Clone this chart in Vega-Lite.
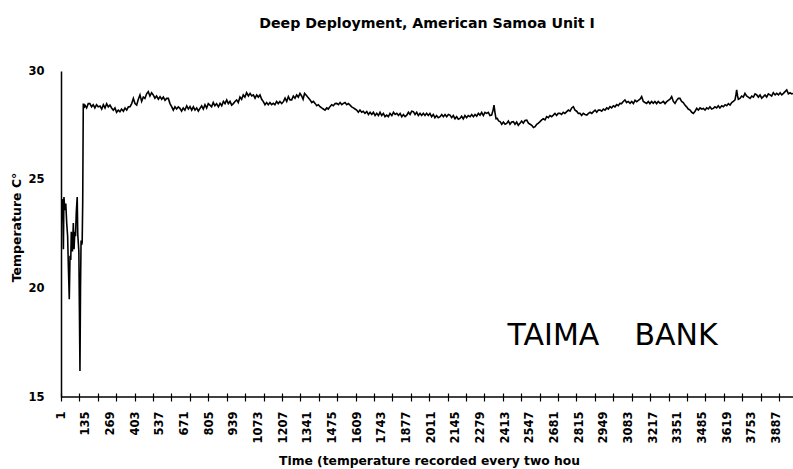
{
  "$schema": "https://vega.github.io/schema/vega-lite/v6.json",
  "width": 732,
  "height": 326,
  "autosize": {"type": "none"},
  "padding": {"left": 61, "top": 71, "right": 0, "bottom": 72},
  "background": "white",
  "title": {
    "text": "Deep Deployment, American Samoa Unit I",
    "font": "DejaVu Sans",
    "fontSize": 14.2,
    "fontWeight": "bold",
    "color": "black",
    "anchor": "middle",
    "frame": "group",
    "baseline": "alphabetic",
    "offset": 23
  },
  "config": {"view": {"stroke": null}},
  "layer": [
    {
      "data": {"values": [
        {"t":1,"v":22.6},{"t":5,"v":23.8},{"t":10,"v":24.1},{"t":14,"v":21.8},{"t":17,"v":24.2},{"t":22,"v":23.6},{"t":27,"v":23.9},{"t":32,"v":23.0},{"t":37,"v":22.4},{"t":41,"v":21.0},{"t":46,"v":19.5},{"t":50,"v":21.5},{"t":54,"v":21.3},{"t":57,"v":22.6},{"t":59,"v":22.2},{"t":63,"v":21.7},{"t":68,"v":23.0},{"t":72,"v":21.8},{"t":76,"v":22.6},{"t":80,"v":22.4},{"t":84,"v":23.5},{"t":89,"v":24.2},{"t":92,"v":22.5},{"t":95,"v":22.1},{"t":98,"v":21.7},{"t":101,"v":19.0},{"t":104,"v":16.2},{"t":107,"v":20.0},{"t":110,"v":22.2},{"t":113,"v":22.0},{"t":116,"v":22.1},{"t":119,"v":24.0},{"t":122,"v":28.5},{"t":126,"v":28.3},{"t":131,"v":28.43},
        {"t":140,"v":28.3},{"t":149,"v":28.5},{"t":158,"v":28.5},{"t":167,"v":28.35},{"t":176,"v":28.45},{"t":185,"v":28.3},{"t":194,"v":28.45},{"t":203,"v":28.35},{"t":213,"v":28.39},{"t":222,"v":28.25},{"t":231,"v":28.45},{"t":240,"v":28.3},{"t":249,"v":28.5},{"t":258,"v":28.35},{"t":267,"v":28.43},{"t":276,"v":28.3},{"t":285,"v":28.2},{"t":294,"v":28.3},{"t":303,"v":28.1},{"t":312,"v":28.2},{"t":321,"v":28.13},{"t":330,"v":28.25},{"t":340,"v":28.15},{"t":349,"v":28.3},{"t":358,"v":28.2},{"t":367,"v":28.35},{"t":376,"v":28.36},{"t":385,"v":28.5},{"t":394,"v":28.74},{"t":403,"v":28.5},{"t":412,"v":28.43},{"t":421,"v":28.7},{"t":430,"v":28.9},{"t":439,"v":28.6},{"t":448,"v":28.8},{"t":457,"v":28.74},{"t":466,"v":28.95},{"t":475,"v":29.05},{"t":484,"v":28.85},{"t":493,"v":29.0},{"t":502,"v":28.9},{"t":511,"v":28.75},{"t":520,"v":28.85},{"t":530,"v":28.7},{"t":539,"v":28.82},{"t":548,"v":28.7},{"t":557,"v":28.8},{"t":566,"v":28.65},{"t":575,"v":28.74},{"t":584,"v":28.74},{"t":593,"v":28.5},{"t":602,"v":28.36},{"t":611,"v":28.2},{"t":620,"v":28.35},{"t":629,"v":28.25},{"t":638,"v":28.35},{"t":647,"v":28.28},{"t":656,"v":28.15},{"t":665,"v":28.3},{"t":674,"v":28.2},{"t":684,"v":28.4},{"t":693,"v":28.25},{"t":702,"v":28.36},{"t":711,"v":28.2},{"t":720,"v":28.35},{"t":729,"v":28.2},{"t":738,"v":28.3},{"t":747,"v":28.15},{"t":756,"v":28.28},{"t":765,"v":28.4},{"t":774,"v":28.25},{"t":783,"v":28.45},{"t":792,"v":28.3},{"t":801,"v":28.5},{"t":810,"v":28.43},{"t":819,"v":28.35},{"t":828,"v":28.55},{"t":837,"v":28.4},{"t":846,"v":28.5},{"t":856,"v":28.35},{"t":865,"v":28.51},{"t":874,"v":28.4},{"t":883,"v":28.6},{"t":892,"v":28.5},{"t":901,"v":28.67},{"t":910,"v":28.5},{"t":919,"v":28.6},{"t":928,"v":28.43},{"t":937,"v":28.5},{"t":946,"v":28.6},{"t":955,"v":28.67},{"t":964,"v":28.55},{"t":973,"v":28.8},{"t":982,"v":28.7},{"t":991,"v":28.9},{"t":1000,"v":28.8},{"t":1009,"v":29.0},{"t":1019,"v":28.85},{"t":1028,"v":28.97},{"t":1037,"v":28.85},{"t":1046,"v":28.9},{"t":1055,"v":28.75},{"t":1064,"v":28.9},{"t":1073,"v":28.8},{"t":1082,"v":28.9},{"t":1091,"v":28.7},{"t":1100,"v":28.59},{"t":1109,"v":28.45},{"t":1118,"v":28.55},{"t":1127,"v":28.45},{"t":1136,"v":28.55},{"t":1145,"v":28.45},{"t":1154,"v":28.51},{"t":1163,"v":28.45},{"t":1172,"v":28.6},{"t":1181,"v":28.5},{"t":1190,"v":28.6},{"t":1200,"v":28.5},{"t":1209,"v":28.59},{"t":1218,"v":28.75},{"t":1227,"v":28.6},{"t":1236,"v":28.82},{"t":1245,"v":28.67},{"t":1254,"v":28.67},{"t":1263,"v":28.85},{"t":1272,"v":28.75},{"t":1281,"v":28.9},{"t":1290,"v":28.8},{"t":1299,"v":28.97},{"t":1308,"v":28.85},{"t":1316,"v":28.7},{"t":1324,"v":28.97},{"t":1332,"v":28.9},{"t":1341,"v":28.8},{"t":1354,"v":28.67},{"t":1363,"v":28.55},{"t":1372,"v":28.6},{"t":1381,"v":28.51},{"t":1390,"v":28.4},{"t":1399,"v":28.45},{"t":1408,"v":28.36},{"t":1417,"v":28.3},{"t":1426,"v":28.25},{"t":1435,"v":28.2},{"t":1444,"v":28.3},{"t":1453,"v":28.25},{"t":1462,"v":28.36},{"t":1471,"v":28.45},{"t":1480,"v":28.4},{"t":1490,"v":28.5},{"t":1499,"v":28.51},{"t":1508,"v":28.45},{"t":1517,"v":28.55},{"t":1526,"v":28.45},{"t":1535,"v":28.51},{"t":1544,"v":28.55},{"t":1553,"v":28.45},{"t":1562,"v":28.5},{"t":1571,"v":28.43},{"t":1580,"v":28.35},{"t":1589,"v":28.3},{"t":1598,"v":28.25},{"t":1607,"v":28.2},{"t":1616,"v":28.1},{"t":1625,"v":28.2},{"t":1634,"v":28.1},{"t":1643,"v":28.15},{"t":1652,"v":28.05},{"t":1662,"v":28.13},{"t":1671,"v":28.0},{"t":1680,"v":28.1},{"t":1689,"v":28.0},{"t":1698,"v":28.1},{"t":1707,"v":27.95},{"t":1716,"v":28.05},{"t":1725,"v":27.95},{"t":1734,"v":28.1},{"t":1743,"v":27.95},{"t":1752,"v":28.05},{"t":1761,"v":27.9},{"t":1770,"v":27.97},{"t":1779,"v":27.9},{"t":1788,"v":28.05},{"t":1798,"v":27.95},{"t":1807,"v":28.1},{"t":1816,"v":28.0},{"t":1825,"v":28.05},{"t":1834,"v":27.95},{"t":1843,"v":28.05},{"t":1852,"v":27.9},{"t":1861,"v":28.0},{"t":1870,"v":27.9},{"t":1879,"v":27.97},{"t":1888,"v":28.1},{"t":1897,"v":28.0},{"t":1906,"v":28.15},{"t":1915,"v":28.13},{"t":1924,"v":28.0},{"t":1933,"v":28.1},{"t":1942,"v":27.95},{"t":1951,"v":28.05},{"t":1960,"v":27.95},{"t":1969,"v":28.05},{"t":1978,"v":27.95},{"t":1987,"v":28.05},{"t":1996,"v":27.95},{"t":2005,"v":28.05},{"t":2014,"v":27.9},{"t":2023,"v":28.0},{"t":2032,"v":27.85},{"t":2041,"v":27.95},{"t":2050,"v":27.85},{"t":2060,"v":27.9},{"t":2069,"v":28.0},{"t":2078,"v":27.9},{"t":2087,"v":28.0},{"t":2096,"v":27.9},{"t":2105,"v":28.0},{"t":2114,"v":27.97},{"t":2123,"v":27.85},{"t":2132,"v":27.95},{"t":2141,"v":27.8},{"t":2150,"v":27.9},{"t":2159,"v":27.78},{"t":2168,"v":27.82},{"t":2177,"v":27.92},{"t":2186,"v":27.8},{"t":2195,"v":27.95},{"t":2204,"v":27.85},{"t":2213,"v":27.95},{"t":2223,"v":27.9},{"t":2232,"v":28.0},{"t":2241,"v":27.9},{"t":2250,"v":28.0},{"t":2259,"v":27.92},{"t":2268,"v":28.05},{"t":2277,"v":27.97},{"t":2286,"v":28.1},{"t":2295,"v":27.95},{"t":2304,"v":28.1},{"t":2313,"v":28.05},{"t":2322,"v":28.1},{"t":2331,"v":27.95},{"t":2340,"v":27.97},{"t":2348,"v":28.2},{"t":2353,"v":28.43},{"t":2358,"v":28.1},{"t":2364,"v":27.8},{"t":2371,"v":27.82},{"t":2378,"v":27.7},{"t":2386,"v":27.67},{"t":2395,"v":27.55},{"t":2404,"v":27.65},{"t":2413,"v":27.55},{"t":2422,"v":27.59},{"t":2431,"v":27.7},{"t":2440,"v":27.55},{"t":2449,"v":27.65},{"t":2458,"v":27.67},{"t":2467,"v":27.55},{"t":2476,"v":27.65},{"t":2485,"v":27.5},{"t":2494,"v":27.59},{"t":2503,"v":27.7},{"t":2512,"v":27.6},{"t":2521,"v":27.72},{"t":2531,"v":27.74},{"t":2540,"v":27.6},{"t":2549,"v":27.55},{"t":2558,"v":27.5},{"t":2567,"v":27.4},{"t":2576,"v":27.44},{"t":2585,"v":27.55},{"t":2594,"v":27.6},{"t":2603,"v":27.67},{"t":2612,"v":27.75},{"t":2621,"v":27.8},{"t":2630,"v":27.75},{"t":2639,"v":27.9},{"t":2648,"v":27.85},{"t":2657,"v":27.95},{"t":2666,"v":27.9},{"t":2675,"v":27.97},{"t":2684,"v":28.05},{"t":2693,"v":27.95},{"t":2702,"v":28.05},{"t":2711,"v":28.05},{"t":2720,"v":28.0},{"t":2729,"v":28.1},{"t":2738,"v":28.05},{"t":2748,"v":28.13},{"t":2757,"v":28.2},{"t":2766,"v":28.15},{"t":2775,"v":28.3},{"t":2784,"v":28.36},{"t":2793,"v":28.2},{"t":2802,"v":28.15},{"t":2811,"v":28.05},{"t":2820,"v":28.05},{"t":2829,"v":27.95},{"t":2838,"v":28.05},{"t":2847,"v":28.0},{"t":2857,"v":27.97},{"t":2866,"v":28.05},{"t":2875,"v":28.1},{"t":2884,"v":28.05},{"t":2893,"v":28.13},{"t":2902,"v":28.2},{"t":2911,"v":28.1},{"t":2920,"v":28.2},{"t":2929,"v":28.2},{"t":2938,"v":28.15},{"t":2947,"v":28.25},{"t":2956,"v":28.2},{"t":2965,"v":28.3},{"t":2974,"v":28.25},{"t":2983,"v":28.36},{"t":2992,"v":28.3},{"t":3001,"v":28.4},{"t":3010,"v":28.35},{"t":3019,"v":28.45},{"t":3028,"v":28.4},{"t":3037,"v":28.51},{"t":3046,"v":28.5},{"t":3055,"v":28.6},{"t":3064,"v":28.67},{"t":3073,"v":28.55},{"t":3082,"v":28.6},{"t":3092,"v":28.51},{"t":3101,"v":28.6},{"t":3110,"v":28.5},{"t":3119,"v":28.65},{"t":3128,"v":28.59},{"t":3137,"v":28.65},{"t":3146,"v":28.7},{"t":3155,"v":28.82},{"t":3164,"v":28.6},{"t":3173,"v":28.55},{"t":3182,"v":28.51},{"t":3191,"v":28.6},{"t":3200,"v":28.5},{"t":3209,"v":28.6},{"t":3218,"v":28.51},{"t":3227,"v":28.6},{"t":3236,"v":28.5},{"t":3245,"v":28.6},{"t":3255,"v":28.51},{"t":3264,"v":28.55},{"t":3273,"v":28.6},{"t":3282,"v":28.5},{"t":3291,"v":28.59},{"t":3300,"v":28.65},{"t":3309,"v":28.7},{"t":3318,"v":28.82},{"t":3327,"v":28.6},{"t":3336,"v":28.51},{"t":3345,"v":28.65},{"t":3354,"v":28.74},{"t":3363,"v":28.74},{"t":3372,"v":28.6},{"t":3381,"v":28.55},{"t":3390,"v":28.43},{"t":3399,"v":28.35},{"t":3408,"v":28.25},{"t":3418,"v":28.2},{"t":3427,"v":28.1},{"t":3436,"v":28.05},{"t":3445,"v":28.15},{"t":3454,"v":28.28},{"t":3463,"v":28.2},{"t":3472,"v":28.3},{"t":3481,"v":28.25},{"t":3490,"v":28.28},{"t":3499,"v":28.2},{"t":3508,"v":28.3},{"t":3517,"v":28.25},{"t":3526,"v":28.35},{"t":3535,"v":28.25},{"t":3544,"v":28.28},{"t":3553,"v":28.35},{"t":3562,"v":28.3},{"t":3571,"v":28.4},{"t":3580,"v":28.3},{"t":3590,"v":28.4},{"t":3599,"v":28.36},{"t":3608,"v":28.45},{"t":3617,"v":28.4},{"t":3626,"v":28.5},{"t":3635,"v":28.43},{"t":3644,"v":28.55},{"t":3653,"v":28.6},{"t":3662,"v":28.67},{"t":3667,"v":28.9},{"t":3671,"v":29.13},{"t":3676,"v":28.85},{"t":3680,"v":28.7},{"t":3689,"v":28.74},{"t":3698,"v":28.85},{"t":3707,"v":28.8},{"t":3716,"v":28.97},{"t":3725,"v":28.85},{"t":3734,"v":28.8},{"t":3744,"v":28.74},{"t":3753,"v":28.85},{"t":3762,"v":28.8},{"t":3771,"v":28.95},{"t":3780,"v":28.9},{"t":3789,"v":28.8},{"t":3798,"v":28.9},{"t":3807,"v":28.75},{"t":3816,"v":28.82},{"t":3825,"v":28.9},{"t":3834,"v":28.8},{"t":3843,"v":28.95},{"t":3852,"v":28.9},{"t":3861,"v":28.85},{"t":3870,"v":29.0},{"t":3880,"v":28.9},{"t":3889,"v":28.97},{"t":3898,"v":28.9},{"t":3907,"v":29.0},{"t":3916,"v":28.9},{"t":3925,"v":28.97},{"t":3934,"v":29.05},{"t":3943,"v":29.13},{"t":3952,"v":28.95},{"t":3961,"v":29.0},{"t":3970,"v":28.95},{"t":3977,"v":28.97}
      ]},
      "mark": {"type": "line", "color": "black", "strokeWidth": 1.6, "clip": true},
      "encoding": {
        "x": {
          "field": "t", "type": "quantitative",
          "scale": {"domain": [1, 3977], "nice": false, "zero": false},
          "axis": {
            "orient": "bottom",
            "offset": -4,
            "tickCount": 500,
            "values": [1,101,135,201,269,301,401,403,501,537,601,671,701,801,805,901,939,1001,1073,1101,1201,1207,1301,1341,1401,1475,1501,1601,1609,1701,1743,1801,1877,1901,2001,2011,2101,2145,2201,2279,2301,2401,2413,2501,2547,2601,2681,2701,2801,2815,2901,2949,3001,3083,3101,3201,3217,3301,3351,3401,3485,3501,3601,3619,3701,3753,3801,3887,3901],
            "labelExpr": "(datum.value - 1) % 134 === 0 ? format(datum.value, 'd') : ''",
            "ticks": true, "tickSize": 8, "tickWidth": 1.2, "tickColor": "black",
            "tickOpacity": {"condition": {"test": "(datum.value - 1) % 100 === 0", "value": 1}, "value": 0},
            "grid": false,
            "domain": false,
            "labelAngle": -90, "labelPadding": 10, "labelOverlap": false, "labelBound": false, "labelFlush": false,
            "labelFont": "DejaVu Sans", "labelFontSize": 11.5, "labelFontWeight": "bold", "labelColor": "black",
            "title": "Time (temperature recorded every two hou",
            "titleFont": "DejaVu Sans", "titleFontSize": 12.3, "titleFontWeight": "bold", "titleColor": "black",
            "titleX": 368, "titleY": 71, "titleAlign": "center", "titleBaseline": "alphabetic"
          }
        },
        "y": {
          "field": "v", "type": "quantitative",
          "scale": {"domain": [15, 30], "nice": false, "zero": false},
          "axis": {
            "values": [15, 20, 25, 30],
            "grid": false, "ticks": false,
            "domain": true, "domainColor": "black", "domainWidth": 1.5,
            "labelFont": "DejaVu Sans", "labelFontSize": 11.5, "labelFontWeight": "bold", "labelColor": "black",
            "labelPadding": 17,
            "title": "Temperature C°",
            "titleFont": "DejaVu Sans", "titleFontSize": 12.5, "titleFontWeight": "bold", "titleColor": "black",
            "titleAngle": 270, "titleX": -45, "titleY": 156, "titleAlign": "center", "titleBaseline": "middle"
          }
        }
      }
    },
    {
      "data": {"values": [{}]},
      "mark": {"type": "rule", "color": "black", "strokeWidth": 1.5},
      "encoding": {
        "y": {"datum": 15, "type": "quantitative"}
      }
    },
    {
      "data": {"values": [{}]},
      "mark": {"type": "text", "font": "DejaVu Sans", "fontSize": 30, "color": "black", "align": "center", "baseline": "alphabetic", "text": "TAIMA"},
      "encoding": {
        "x": {"datum": 2676, "type": "quantitative"},
        "y": {"datum": 17.39, "type": "quantitative"}
      }
    },
    {
      "data": {"values": [{}]},
      "mark": {"type": "text", "font": "DejaVu Sans", "fontSize": 30, "color": "black", "align": "center", "baseline": "alphabetic", "text": "BANK"},
      "encoding": {
        "x": {"datum": 3342, "type": "quantitative"},
        "y": {"datum": 17.39, "type": "quantitative"}
      }
    }
  ]
}
